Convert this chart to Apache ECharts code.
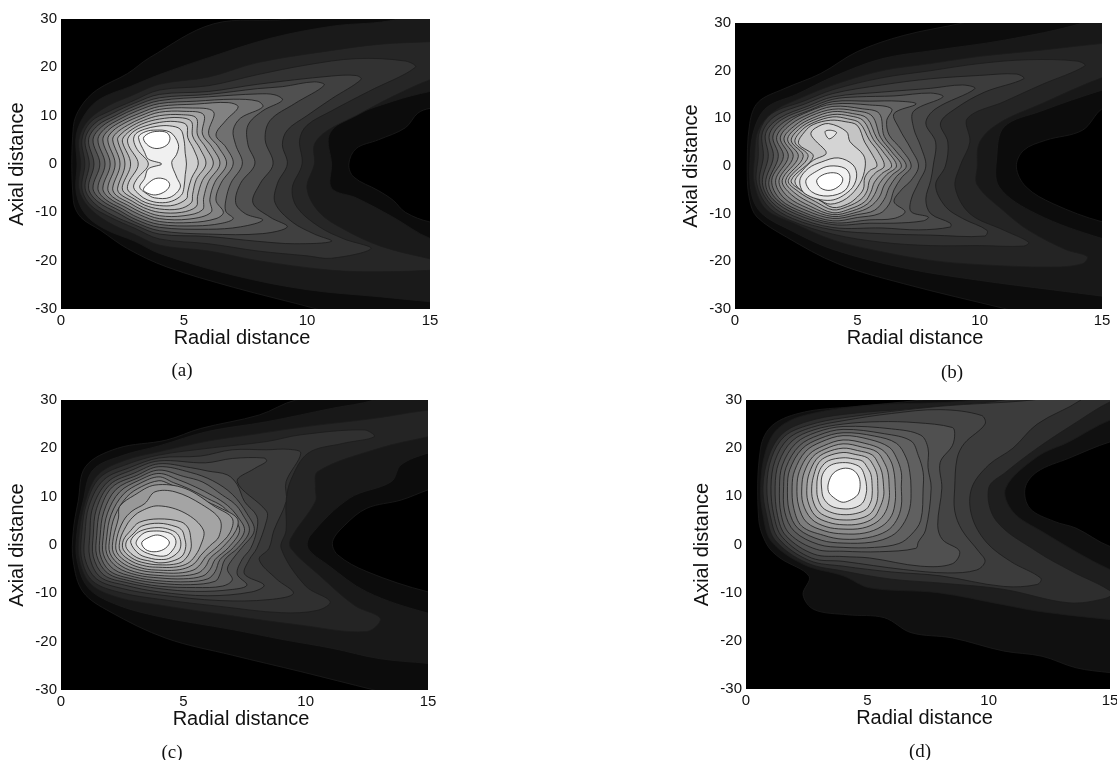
<!DOCTYPE html>
<html><head><meta charset="utf-8">
<script src="https://cdn.jsdelivr.net/npm/echarts@6/dist/echarts.min.js"></script>
<style>html,body{margin:0;padding:0;background:#fff}#c{width:1117px;height:760px}</style>
</head><body><div id="c"></div>
<script>
const panelNames = ['(a)','(b)','(c)','(d)'];
const xLabel = 'Radial distance';
const yLabel = 'Axial distance';
const radialTicks = [0,15,5];
const axialTicks = [-30,30,10];

// Contour outlines: flat lists of radial, axial pairs, outermost first.
const contoursA = [
[16,36, 9.2,30, 6.2,29, 3.6,22, 2.7,18.7, 1.45,15.3, .8,11.8, .5,7.7, .5,-7.5, .8,-11, 1.6,-13.7, 2.7,-17.5, 4.3,-21.3, 7,-25.5, 10.4,-30, 16,-38, 16,-12.3, 15,-12, 14,-10, 13.5,-7.5, 12.9,-5.5, 11.9,-2.7, 11.7,0, 12,3.2, 12.9,5, 14,7.5, 14.5,10.5, 15,11.5, 16,11.7],
[16,35, 13.7,30, 11,28.5, 8.5,26, 6,22, 4,18.5, 2.8,16, 1.6,13.5, 1,10.5, .62,6, .65,0, .62,-6, 1,-10.5, 1.8,-13.5, 3,-16, 4,-18.5, 7,-23, 10,-26, 13,-27.5, 15,-28.5, 16,-29, 16,-16, 15,-15.4, 13.5,-11, 12,-7, 11,-5, 11,0, 10.9,6, 11.7,9.5, 13.5,13, 15,15, 16,15.6],
[16,25.5, 15,25.3, 13,24.8, 11,23.5, 8,21, 6,18, 4,16.5, 2.8,14, 1.9,12, 1.1,9, .72,5, .8,0, .72,-5, 1.1,-8.8, 1.9,-12, 3,-14.6, 4,-16.8, 6,-18, 8,-20, 11,-22, 13,-22.3, 15,-22, 16,-21.5, 16,-20.5, 15,-19.6, 13,-17, 11.5,-13.5, 10.5,-10, 10,-5, 10.3,0, 10.3,4, 10.8,6.8, 12,10, 13.5,14, 15,17.4, 16,18.5],
[14.4,20, 14,21.3, 12,21.8, 10,20.5, 8,18.5, 6,16.2, 4,15.3, 2.9,13, 2,11, 1.2,8.7, .85,5, .97,0, .85,-5, 1.2,-8.5, 2,-11, 3,-13.3, 4,-15.5, 6,-16.5, 8,-18, 10,-19, 11,-19.5, 12.6,-17.5, 11.5,-15.5, 10.5,-13, 9.6,-9, 9.4,-5, 9.8,0, 9.7,5, 10,8, 11,11, 12.5,15],
[12.2,17.5, 12,18.3, 11,18.2, 8,16.5, 6,15, 4,14.4, 3,12.6, 2.1,10.5, 1.35,8.3, .98,5, 1.15,0, .98,-5, 1.35,-8.1, 2.1,-10.6, 3,-12.6, 4,-14.5, 6,-15, 8,-16, 9.5,-16.5, 11,-16, 10.3,-14.5, 9.4,-12, 8.7,-8, 8.8,-4, 9.2,0, 9,4, 9.2,7, 10,10, 11,13.5],
[10.7,16.3, 10.3,17, 9,16, 8,15.6, 6,14.4, 4,13.7, 3,12, 2.2,10, 1.5,8, 1.12,5, 1.34,0, 1.12,-5, 1.5,-7.8, 2.3,-10.1, 3,-12, 4,-13.8, 6,-14.5, 8.2,-14.4, 9.2,-13, 8.5,-11, 7.8,-8, 8.1,-4, 8.62,0, 8.3,5, 8.5,9, 9.5,12.5],
[9,13.2, 8.7,14.3, 8,14.5, 6,13.9, 4,13.1, 3.05,11.5, 2.3,9.7, 1.65,7.7, 1.3,5, 1.58,0, 1.3,-5, 1.65,-7.5, 2.4,-9.7, 3.05,-11.5, 4,-13.1, 6,-13.5, 7.3,-13, 8.2,-11.6, 7.5,-10.3, 7.1,-8, 7.3,-4, 7.88,0, 7.6,4, 7.6,8, 8.2,11],
[8.2,11.8, 8,13, 7,13.4, 5.5,13, 4,12.5, 3.1,11, 2.4,9.3, 1.8,7.4, 1.5,5, 1.79,0, 1.5,-5, 1.8,-7.3, 2.5,-9.3, 3.1,-11, 4,-12.5, 5.5,-12.8, 6.5,-12.3, 7,-11.3, 6.7,-9.8, 6.7,-7.5, 6.9,-4, 7.37,0, 7.1,4, 7,7, 7.3,9.5],
[7.2,11.8, 6.8,12.7, 5.5,12.4, 4,11.9, 3.2,10.5, 2.5,8.9, 1.95,7.1, 1.7,5, 2,0, 1.7,-5, 1.95,-7, 2.6,-8.9, 3.2,-10.5, 4,-11.9, 5.3,-12.1, 6.3,-11.3, 6.6,-10, 6.3,-7.5, 6.5,-4, 7,0, 6.7,3.5, 6.3,6, 6.7,9],
[6.2,10.8, 5.2,11.6, 4,11.3, 3.25,10, 2.6,8.5, 2.1,6.8, 1.9,5, 2.2,0, 1.9,-5, 2.1,-6.8, 2.7,-8.5, 3.25,-10, 4,-11.3, 5.2,-11.4, 6.1,-10, 6.05,-7.3, 6.25,-3.8, 6.73,0, 6.4,3.5, 6,6.3],
[5.8,10.2, 5,10.9, 4,10.7, 3.3,9.5, 2.7,8, 2.25,6.4, 2.1,5, 2.4,0, 2.1,-5, 2.25,-6.5, 2.8,-8.1, 3.3,-9.5, 4,-10.7, 5,-10.7, 5.75,-9.5, 5.8,-7, 6,-3.6, 6.46,0, 6.15,3.4, 5.75,6.2],
[5.5,9.5, 4.9,10.2, 4,10, 3.35,9, 2.8,7.6, 2.4,6, 2.3,5, 2.6,0, 2.3,-5, 2.4,-6.2, 2.9,-7.7, 3.35,-9, 4,-10, 4.9,-10, 5.5,-8.8, 5.55,-6.7, 5.75,-3.4, 6.19,0, 5.9,3.3, 5.55,6],
[5.3,8.8, 4.8,9.6, 4,9.3, 3.4,8.5, 2.9,7.2, 2.55,5.6, 2.5,4.5, 2.83,0, 2.5,-4.5, 2.55,-5.8, 3,-7.3, 3.4,-8.5, 4,-9.3, 4.8,-9.3, 5.3,-8, 5.35,-6.3, 5.5,-3.2, 5.89,0, 5.65,3.2, 5.35,5.8],
[5.1,8.1, 4.6,8.8, 4,8.6, 3.45,7.9, 3,6.9, 2.72,5.3, 2.75,3.8, 3.14,0, 2.75,-3.8, 2.72,-5.4, 3.1,-7, 3.45,-8, 4,-8.6, 4.6,-8.5, 5.1,-7.2, 5.15,-5.8, 5.3,-3, 5.58,0, 5.4,3, 5.15,5.5],
[4.85,7.2, 4.4,7.9, 3.9,7.8, 3.4,7.2, 3.05,6.3, 2.95,5, 3.1,3, 3.55,0, 3.1,-3, 2.95,-4.8, 3.2,-6.4, 3.5,-7.4, 4,-8, 4.5,-7.7, 4.9,-6.4, 5,-4.8, 5.05,-2.2, 5.1,0, 5.05,2.2, 5,5],
[4.43,6.6, 3.75,7, 3.35,6.5, 3.15,5.5, 3.4,2.4, 3.55,1, 4.09,0, 3.55,-1, 3.4,-3, 3.2,-4.8, 3.5,-6.2, 3.8,-7, 4.43,-6.9, 4.85,-4.8, 4.7,-2.7, 4.5,.3, 4.7,2, 4.77,4.1],
[3.35,5.3, 3.55,6.3, 3.9,6.75, 4.3,6.5, 4.43,5.3, 4.3,3.9, 3.9,3.2, 3.55,3.8],
[3.35,-5.3, 3.5,-4.2, 3.85,-3, 4.25,-3.2, 4.42,-4.3, 4.25,-5.6, 3.85,-6.4, 3.5,-6]
];
const shadesA = [12,26,38,50,64,80,96,112,130,147,163,178,192,207,222,240,255,255];

const contoursB = [
[16,38, 9.3,30, 6.9,27.4, 5,24, 3.5,19.4, 2,16.2, .95,13.4, .6,8.9, .5,-1.6, .6,-7.2, .9,-10.7, 2.1,-14.9, 4.2,-20.5, 6.9,-24.7, 11.1,-30, 16,-36, 16,-12, 15,-11.7, 13,-7.9, 11.9,-4.4, 11.5,-.2, 11.8,3.3, 12.7,5.4, 14.2,7.5, 15,12, 16,14],
[16,34, 14.2,30, 11,26.4, 8.2,24.3, 6,22.5, 4,18.7, 2.5,15, 1.3,12.3, .8,8, .62,2, .68,-6, 1.1,-10, 2.2,-13.3, 4,-17.5, 7,-21.5, 10,-24, 13,-26, 15,-27.3, 16,-28, 16,-15.8, 15,-15.2, 12.3,-10, 10.8,-4.4, 10.7,1.9, 11,8.2, 12.5,11.5, 15,15.9, 16,17],
[16,26, 15,25.7, 12.5,24.3, 10,23, 8,21.5, 6,20, 4,17, 2.7,14.3, 1.6,11.5, .95,7.5, .8,2, .78,-3.5, 1.25,-9, 2.4,-12, 4,-15.5, 6,-18, 8,-19.8, 10,-20.7, 13,-21.2, 14.2,-20.5, 14.4,-19, 13.5,-17.5, 12,-13.5, 11,-9.5, 9.9,-4, 9.9,-.2, 10,5, 10.8,9, 12.5,13, 15,18.5, 16,19.5],
[14.3,21, 14,22, 12,22.3, 10,21.5, 8,20, 6,18.5, 4,16, 2.8,13.6, 1.5,11, 1,7.2, .95,2, .88,-3.5, 1.35,-8.5, 2.3,-11.5, 4,-14.3, 6,-16, 8,-16.7, 10,-16.7, 11.8,-16.8, 12,-16, 11,-13.5, 9.6,-10, 9,-4.5, 9.2,0, 9.6,5, 9.5,10, 11,13.5, 12.5,17],
[11.8,18.3, 11.5,19.3, 10,19, 8,18.3, 6,17, 4,15.2, 2.9,13.1, 1.65,10.5, 1.12,7, 1.16,2, 1,-3.5, 1.45,-8, 2.35,-11, 4,-13.4, 6,-14.2, 8,-14.5, 10.2,-14.7, 10.3,-13.5, 9.3,-11, 8.6,-8.5, 8.2,-4, 8.6,0, 8.7,5, 8.4,9, 9,12, 10.2,15.5],
[9.8,16.2, 9.3,17, 8,16.3, 6,15.5, 4,14.5, 3,12.6, 1.8,10, 1.25,6.8, 1.36,2, 1.12,-3.5, 1.5,-7.5, 2.4,-10.5, 4,-12.9, 6,-13, 7.5,-13.4, 8.8,-12.8, 8.8,-12, 8,-10, 7.8,-7, 8,-3, 8.1,0, 8.2,5, 7.8,9, 8.2,12],
[8.5,14.5, 8,15.3, 6.5,14.7, 5,14.5, 4,14, 3.05,12.2, 1.9,9.7, 1.4,6.5, 1.57,2, 1.25,-3.5, 1.55,-7, 2.5,-10.1, 4,-12.3, 5.5,-12, 6.5,-12, 7.7,-11.5, 7.9,-10.7, 7.2,-9.6, 7.2,-7, 7.5,-3.5, 7.8,0, 7.6,4, 7.3,8, 7.3,11.5],
[7.4,13, 6.7,13.6, 5.5,13.6, 4,13.5, 3.1,11.8, 2.05,9.4, 1.55,6.3, 1.77,2, 1.38,-3.5, 1.7,-7, 2.6,-9.8, 4,-11.9, 5.5,-11.3, 6.5,-11, 6.95,-9.6, 6.5,-7.5, 6.8,-5, 7.2,-3, 7.5,0, 7.2,3.5, 6.7,8, 6.5,11],
[6.4,12, 5.5,12.8, 4,13, 3,11.4, 2.2,9.2, 1.7,6, 1.98,2, 1.5,-3, 1.85,-7, 2.8,-9.7, 4,-11.5, 5,-10.8, 5.9,-10, 6.3,-8, 6.5,-5, 6.8,-2.5, 7.2,0, 6.8,3.5, 6.3,6.5, 6.2,9.5],
[5.9,11, 5.2,12, 4,12.5, 3.05,10.9, 2.3,8.8, 1.85,5.9, 2.18,2, 1.66,-3, 2,-6.7, 2.9,-9.3, 4,-11, 5,-10.2, 5.7,-9.3, 6.1,-7, 6.3,-4.5, 6.6,-2.2, 7,0, 6.6,3, 6.1,6.2],
[5.6,10.5, 4.9,11.6, 4,11.9, 3.1,10.5, 2.45,8.5, 2,5.7, 2.38,2, 1.8,-3, 2.15,-6.4, 3,-8.9, 4,-10.6, 4.9,-9.8, 5.5,-8.6, 5.9,-6.5, 6.1,-4, 6.4,-2, 6.8,0, 6.4,3, 5.95,6],
[5.4,10, 4.8,11, 4,11.4, 3.15,10, 2.55,8.2, 2.15,5.5, 2.59,2, 1.93,-3, 2.3,-6, 3.1,-8.5, 4,-10.2, 4.8,-9.4, 5.4,-8, 5.7,-6, 5.9,-3.7, 6.2,-1.8, 6.6,0, 6.25,3, 5.8,5.8],
[5.25,9.5, 4.7,10.5, 4,10.8, 3.2,9.6, 2.65,7.9, 2.3,5.3, 2.79,2, 2.07,-3, 2.45,-5.7, 3.2,-8, 4,-9.8, 4.7,-9, 5.3,-7.5, 5.55,-5.5, 5.7,-3.4, 6,-1.6, 6.4,0, 6.05,3, 5.65,5.6],
[5.1,9, 4.6,9.9, 4,10.3, 3.25,9.2, 2.75,7.6, 2.45,5, 2.99,2, 2.18,-3, 2.6,-5.4, 3.3,-7.5, 4,-9.2, 4.6,-8.5, 5.15,-7, 5.4,-5.2, 5.5,-3, 5.75,-1.4, 6.1,0, 5.85,3, 5.5,5.4],
[5,8.5, 4.5,9.3, 3.9,9.6, 3.2,8.7, 2.85,7.2, 2.6,4.7, 3.2,2, 2.3,-3, 2.7,-5.1, 3.4,-7, 4,-8.7, 4.6,-8, 5,-6.5, 5.25,-4.8, 5.3,-2.5, 5.5,-1, 5.8,0, 5.6,2.5, 5.3,5],
[4.56,7.2, 3.82,8.9, 3.3,8, 3.1,6.8, 3.27,5.4, 3.7,3.2, 3.7,2.4, 3.2,1.2, 2.75,-1, 2.45,-3.3, 2.8,-5.5, 3.4,-7, 3.9,-8, 4.56,-6.8, 5.1,-3.7, 5.32,-.2, 5.25,2.3, 4.7,5.1],
[3.68,7.2, 3.9,7.5, 4.15,7, 3.85,5.7],
[3.54,.85, 4.22,1.7, 4.83,.2, 4.97,-2.3, 4.7,-5.1, 3.9,-7.2, 2.86,-5.8, 2.65,-3, 3,-.5],
[2.9,-3, 3.4,-.9, 3.88,0, 4.5,-.5, 4.7,-2.3, 4.5,-5.1, 3.8,-6.3, 3.13,-5.4],
[3.34,-3, 3.66,-1.7, 4.15,-1.5, 4.4,-2.6, 4.3,-4, 3.9,-5.1, 3.5,-4.6]
];
const shadesB = [12,24,36,48,60,72,84,98,112,126,140,154,168,182,196,212,228,228,242,255];

const contoursC = [
[16,36, 9.6,30, 8.1,26.9, 5.7,24.1, 4.3,21.7, 2.3,20, 1,16.2, .7,9, .5,2.8, .5,-3.4, .9,-9.7, 2,-13.8, 4.3,-19.3, 7,-22.8, 9.8,-26.2, 12.8,-30, 16,-34, 16,-10, 15,-9.7, 12.5,-5.5, 11.3,-2, 11.1,.7, 11.6,4.1, 12.5,7.6, 13.9,9.3, 15,11.4, 16,13],
[16,36, 12.8,30, 11.1,28.3, 8.4,25.5, 6,23.5, 4,20.5, 2.5,18.5, 1.3,15.5, .9,9, .65,2.5, .65,-3, 1.1,-8.8, 2.2,-12.2, 4,-14.8, 7,-17.5, 9,-19.5, 11.1,-21.4, 13,-23.5, 15,-24.5, 16,-25, 16,-14.5, 15,-14.1, 12.5,-9.7, 10.9,-4.1, 10.1,-.7, 10.2,2, 11.8,9.7, 13.5,13.1, 13.9,16.6, 15,19, 16,20],
[16,28, 15,27.9, 12.8,26.2, 10,24.5, 8,23, 6,21.5, 4,19.3, 2.6,17.5, 1.5,14.5, 1,9, .75,2.5, .75,-3, 1.2,-8, 2.3,-10.8, 4,-12.4, 6.5,-14.3, 9.8,-16.6, 12.5,-17.9, 13.05,-15.2, 12,-12.5, 10.5,-6, 9.4,-.7, 9.4,1.4, 10.4,9, 10.4,11.7, 10.5,15.2, 13,20, 15,22.4, 16,23.5],
[12.8,22.4, 12.4,23.8, 9.8,22.8, 8.4,21.4, 6,20, 4,18.6, 2.7,16.7, 1.6,14, 1.05,8.7, .85,2.5, .85,-3, 1.3,-7.5, 2.4,-9.8, 4,-11.2, 6.5,-12.7, 9,-14, 10.5,-13.5, 11,-11.7, 10,-8.5, 9,-.7, 9.2,3, 9.2,9, 9.4,13.5, 10.1,19, 11.5,21],
[9.8,19, 9.3,19.8, 8.4,19.7, 7,19.7, 5.7,18.4, 4,18, 2.8,16, 1.75,13.5, 1.15,8.2, .98,2.3, .98,-2.8, 1.45,-7, 2.5,-9, 4,-10.3, 6.5,-11.5, 8.5,-11.3, 9.5,-10, 8.8,-7, 8.1,-3, 8.5,-.7, 8.7,3, 9.2,9, 9.2,13.1],
[8.4,17.3, 8.3,18, 7,17.9, 5.9,17, 4,17.4, 2.9,15.5, 1.9,13, 1.3,7.8, 1.18,2.2, 1.18,-2.6, 1.6,-6.6, 2.6,-8.3, 4,-9.7, 6,-10.5, 7.8,-9.7, 8.3,-8.3, 7.5,-6, 7.7,-3, 8,-.7, 8.4,5, 8.4,7, 7.2,13.1, 7.9,15.8],
[7.2,12.5, 6.8,14.5, 6,15.3, 5.3,16, 4,16.8, 3,14.9, 2,12.5, 1.45,7.5, 1.32,2.1, 1.32,-2.4, 1.75,-6.2, 2.7,-7.8, 4,-9, 5.5,-9.6, 7,-9.2, 7.6,-8.3, 7.2,-6, 7.4,-3, 7.75,-.7, 8,3, 8,6, 7.5,9],
[7,10.5, 6.2,13.3, 5.3,15, 4,16.2, 3.1,14.4, 2.1,12, 1.6,7.2, 1.46,2, 1.46,-2.2, 1.9,-5.8, 2.8,-7.4, 4,-8.5, 5.5,-8.8, 6.6,-8.5, 7,-7.2, 6.8,-5, 7,-3, 7.4,-.5, 7.9,3, 7.6,6.5],
[6.6,10.3, 5.8,13, 5,14.2, 4,15.5, 3.15,13.9, 2.25,11.5, 1.75,6.9, 1.6,1.9, 1.6,-2, 2,-5.4, 2.9,-7, 4,-7.9, 5.3,-8.2, 6.3,-7.5, 6.5,-6, 6.7,-3, 7.25,-.5, 7.7,3, 7.4,6.5, 7.1,8.5],
[6.2,10.2, 5.5,12, 4.8,13.5, 4,14.8, 3.2,13.4, 2.4,11, 1.9,6.6, 1.73,1.8, 1.73,-1.9, 2.15,-5, 3,-6.6, 4,-7.4, 5.2,-7.6, 6,-7, 6.3,-5.5, 6.5,-3, 7.05,-.5, 7.5,3, 7.2,6, 6.8,8.2],
[6,9.6, 5.2,11.7, 4.6,12.9, 4,14.1, 3.25,12.8, 2.55,10.5, 2.05,6.3, 1.87,1.7, 1.87,-1.8, 2.3,-4.6, 3.1,-6.2, 4,-6.8, 5,-7, 5.8,-6.4, 6.1,-5, 6.3,-3, 6.85,-.5, 7.3,3, 7,5.8, 6.6,8],
[5.8,9.3, 5,11.2, 4.4,12.7, 4,13.3, 3.3,12.1, 2.7,10, 2.2,6, 2,1.6, 2,-1.7, 2.45,-4.3, 3.2,-5.8, 4,-6.3, 4.9,-6.4, 5.6,-5.8, 5.9,-4.5, 6.1,-2.7, 6.6,-.5, 7.15,3, 7.2,5.5, 6.5,7.7],
[5.07,11.7, 3.84,12.4, 3,10.3, 2.4,8, 2.35,5.6, 2.14,1.5, 2.14,-1.6, 2.6,-4, 3.3,-5.3, 4,-5.7, 4.8,-5.8, 5.4,-5.2, 5.7,-4, 5.9,-2.5, 6.4,-.3, 6.9,2.5, 7,5.5, 6.3,7.9],
[4.66,11, 3.84,11, 3.43,8.6, 2.9,7, 2.55,5, 2.28,1.4, 2.28,-1.5, 2.75,-3.7, 3.4,-4.9, 4,-5.2, 4.7,-5.2, 5.2,-4.6, 5.5,-3.6, 5.7,-2.2, 6.1,-.1, 6.45,1.7, 6.5,5.2, 5.75,8.4],
[5.07,6.6, 3.98,8.1, 3.23,6.9, 2.85,5.3, 2.65,3.8, 2.42,1.2, 2.42,-1.3, 2.9,-3.4, 3.5,-4.4, 4,-4.6, 4.6,-4.6, 5.1,-4, 5.4,-2.8, 5.7,-.2, 5.82,3.1],
[4.9,4.8, 4,5.4, 3.2,4.7, 2.85,3, 2.55,1, 2.55,-1, 3,-3, 3.6,-3.9, 4,-4.1, 4.6,-4, 5,-3.3, 5.3,-1, 5.3,1.5, 5.2,3.5],
[4.7,3.8, 4,4.5, 3.3,3.9, 2.95,2.3, 2.68,.8, 2.68,-.7, 3.1,-2.6, 3.7,-3.4, 4,-3.7, 4.5,-3.4, 4.95,-2.3, 5.1,-.3, 5.05,1.5, 4.95,3],
[4.55,3, 4,3.6, 3.35,3.1, 3,2, 2.85,.5, 3.2,-1.9, 3.7,-2.8, 4,-3, 4.4,-2.8, 4.8,-1.4, 4.9,.2, 4.8,2],
[4.35,2.6, 3.9,2.9, 3.4,2.5, 3.07,.5, 3.3,-1.1, 3.8,-2.1, 4.3,-2.2, 4.6,-.8, 4.7,.6, 4.6,1.9],
[3.3,.5, 3.6,1.6, 3.95,2.07, 4.3,1.4, 4.43,.4, 4.2,-.9, 3.8,-1.4, 3.45,-.9]
];
const shadesC = [12,24,36,48,58,68,80,92,104,116,128,140,152,164,178,192,206,220,238,255];

const contoursD = [
[16,36, 7.2,30, 4.4,28.6, 2.4,27.5, 1.1,24.8, .6,20, .52,5.4, .86,0, 1.4,-2.8, 2.6,-6.6, 2.35,-10.4, 2.8,-13.5, 4.2,-14.6, 5.7,-15.2, 6.8,-18.3, 8.5,-19.4, 10.6,-22.1, 12.2,-23.2, 13.6,-25.6, 15,-26.6, 16,-27, 16,-1, 15,-.4, 13.6,3.4, 12.7,4.8, 11.7,7.5, 11.5,11.7, 12,15.1, 13.3,17.9, 15,21.3, 16,22.2],
[16,36, 9.4,30, 5.1,28.9, 2.4,26.8, 1.3,24, .8,19.2, .6,12, .7,6.1, 1.05,.6, 2.4,-4.2, 4,-6.5, 5.1,-9, 7.9,-10, 10.6,-12.5, 12.1,-13.9, 15,-15.6, 16,-16, 16,-6, 15,-5.2, 12.2,2.7, 11,6.8, 10.7,11.7, 12,18.2, 13.3,21.3, 15,25.8, 16,26.5],
[16,36, 10.6,30, 7,28.3, 4,27, 2.5,25.5, 1.5,23, .95,18.5, .7,12, .85,6, 1.2,.9, 2.5,-3.8, 4,-5.5, 6,-7.2, 8,-8, 10.6,-9.3, 13.3,-12.1, 14.8,-11.2, 15.1,-10, 13.4,-5.5, 12,-1.5, 10.3,5, 10,11.7, 10.7,15, 12,20, 13.5,25, 15,29.6, 16,31],
[14,32, 11.8,30, 8,28.7, 4,26.3, 2.6,24.8, 1.6,22.5, 1.05,18, .86,12, 1,6, 1.35,1.2, 2.6,-3.3, 4,-4.5, 6,-5.7, 8,-6.5, 10.6,-8.7, 12,-8.3, 12.15,-7, 10.9,-3.5, 9.9,.5, 9.3,6, 9.3,11.7, 10,16.5, 11,20, 12,25, 13.8,30],
[9.85,25, 9.7,26.8, 8,28, 6,27.2, 4,25.7, 2.7,24.3, 1.75,22, 1.2,17.5, 1.03,12, 1.15,6, 1.5,1.5, 2.7,-2.8, 4,-3.5, 6.5,-5.2, 8.3,-5.9, 9.5,-5.3, 9.85,-3.5, 9.6,-1.5, 8.9,3, 8.6,7, 8.6,11.7, 8.7,17.9, 9,21],
[8.6,23, 8.5,24.3, 7,25.3, 5.5,25.5, 4,25, 2.8,23.8, 1.9,21.5, 1.35,17, 1.2,12, 1.3,6, 1.65,1.8, 2.8,-2, 4,-2.5, 5.1,-2.8, 7.2,-4.5, 8.5,-4, 8.8,-1.4, 8.1,1, 7.9,4, 8.07,11.7, 8,17, 8.5,20.5],
[7.5,20, 7.2,22.7, 6,24, 4,24.5, 2.9,23.3, 2.05,21, 1.5,16.5, 1.38,12, 1.45,6.2, 1.8,2.2, 2.9,-1, 4,-1.4, 5.5,-1.5, 7,-.8, 7.1,.5, 7.4,3, 7.63,11.7, 7.5,16],
[7.1,18.5, 6.8,21.5, 5.7,23, 4,23.9, 3,22.7, 2.2,20.5, 1.65,16, 1.55,12, 1.6,6.7, 2,2.7, 3,0, 4,-.6, 5.3,-.6, 6.3,.2, 6.8,2, 7.2,5, 7.3,11.7, 7.3,15],
[6.6,18, 6.2,21, 5.3,22.5, 4,23.2, 3.05,22, 2.3,19.8, 1.8,15.5, 1.71,12, 1.78,7, 2.15,3.3, 3.1,.9, 4,.3, 5.2,.5, 6,1.8, 6.45,4, 6.75,7.5, 6.8,11.7, 6.75,15],
[6.2,18, 5.9,20.2, 5.1,21.8, 4,22.6, 3.1,21.3, 2.45,19.3, 2,15.3, 1.9,12, 1.97,7.5, 2.3,3.8, 3.2,1.9, 4,1.1, 5,1.4, 5.8,2.8, 6.2,5, 6.4,8, 6.4,12, 6.4,15],
[5.95,17.5, 5.6,19.7, 4.9,21, 4,21.7, 3.2,20.5, 2.6,18.7, 2.2,15.2, 2.1,12, 2.17,8, 2.5,4.6, 3.25,2.8, 4,2.2, 4.9,2.4, 5.6,3.8, 6,6, 6.15,9, 6.15,12, 6.1,15],
[5.7,17, 5.4,19.2, 4.8,20.2, 4,20.9, 3.25,19.8, 2.75,18.2, 2.4,15, 2.3,12, 2.35,8.5, 2.7,5.3, 3.3,3.7, 4,3.2, 4.8,3.4, 5.4,4.7, 5.75,6.8, 5.9,9.5, 5.9,12, 5.85,15],
[5.45,16.8, 5.2,18.6, 4.6,19.5, 4,20, 3.3,19.1, 2.9,17.7, 2.6,14.7, 2.51,12, 2.55,9, 2.85,6, 3.4,4.6, 4,4.1, 4.7,4.3, 5.25,5.5, 5.5,7.5, 5.67,10, 5.67,12, 5.6,15],
[5.25,16.4, 5,18, 4.5,18.7, 4,19.1, 3.35,18.3, 3,17, 2.8,14.5, 2.71,12, 2.75,9.3, 3,6.8, 3.5,5.5, 4,5.1, 4.6,5.3, 5.1,6.3, 5.35,8.2, 5.43,10, 5.43,12, 5.4,14.5],
[5,16, 4.8,17.3, 4.4,17.8, 4,18, 3.4,17.4, 3.1,16, 2.95,14, 2.92,12, 2.95,9.8, 3.15,7.7, 3.55,6.6, 4,6.2, 4.5,6.4, 4.95,7.3, 5.15,9, 5.2,10.5, 5.2,12, 5.15,14.5],
[4.75,15.8, 4.5,16.6, 4.1,17, 3.6,16.7, 3.3,15.7, 3.12,14, 3.12,11.5, 3.2,9.6, 3.5,8, 4,7.4, 4.45,7.6, 4.8,8.6, 4.95,10.5, 4.97,12, 4.9,14],
[3.4,12.8, 3.6,14.8, 4,15.8, 4.4,15.5, 4.65,14, 4.7,12, 4.6,10.3, 4.25,9.1, 3.95,8.8, 3.6,9.8, 3.4,11]
];
const shadesD = [16,30,46,60,68,80,88,96,110,125,140,155,172,190,208,228,255];

const panels = [
  {contours:contoursA, shades:shadesA, grid:{left:61,top:19,width:369,height:290}, cap:[182,372]},
  {contours:contoursB, shades:shadesB, grid:{left:735,top:23,width:367,height:286}, cap:[952,374]},
  {contours:contoursC, shades:shadesC, grid:{left:61,top:400,width:367,height:290}, cap:[172,754]},
  {contours:contoursD, shades:shadesD, grid:{left:746,top:400,width:364,height:289}, cap:[920,753]}
];

const chart = echarts.init(document.getElementById('c'), null, {renderer:'canvas'});
const labelFont = {fontFamily:'"Liberation Sans",Arial,sans-serif', color:'#111'};
chart.setOption({
  animation:false,
  backgroundColor:'#fff',
  title: panels.map((p,i)=>({text:panelNames[i], left:p.cap[0], top:p.cap[1]-10, textAlign:'center',
    textStyle:{fontFamily:'"Liberation Serif",serif', fontSize:19, fontWeight:'normal', color:'#111'}, padding:0})),
  grid: panels.map(p=>Object.assign({show:true, backgroundColor:'#000', borderWidth:0, containLabel:false, outerBoundsMode:'none'}, p.grid)),
  xAxis: panels.map((p,i)=>({type:'value', gridIndex:i, min:radialTicks[0], max:radialTicks[1], interval:radialTicks[2],
    name:xLabel, nameLocation:'middle', nameGap:19, nameTextStyle:Object.assign({fontSize:20, padding:[0,7,0,0]},labelFont),
    axisLine:{show:false}, axisTick:{show:false}, splitLine:{show:false},
    axisLabel:Object.assign({fontSize:15, margin:4, showMinLabel:true, showMaxLabel:true, hideOverlap:false},labelFont)})),
  yAxis: panels.map((p,i)=>({type:'value', gridIndex:i, min:axialTicks[0], max:axialTicks[1], interval:axialTicks[2],
    name:yLabel, nameLocation:'middle', nameGap:34, nameRotate:90, nameTextStyle:Object.assign({fontSize:20},labelFont),
    axisLine:{show:false}, axisTick:{show:false}, splitLine:{show:false},
    axisLabel:Object.assign({fontSize:15, margin:4, showMinLabel:true, showMaxLabel:true, hideOverlap:false},labelFont)})),
  series: panels.map((p,i)=>({
      type:'custom', xAxisIndex:i, yAxisIndex:i, clip:true, silent:true,
      data:p.contours.map(c=>[c[0],c[1]]),
      renderItem:function(params,api){
        const c = p.contours[params.dataIndex];
        const v = p.shades[params.dataIndex];
        const pts = [];
        for(let k=0;k<c.length;k+=2) pts.push(api.coord([c[k],c[k+1]]));
        return {type:'polygon', shape:{points:pts, smooth:0.35},
          style:{fill:'rgb('+v+','+v+','+v+')', stroke:'#1c1c1c', lineWidth:0.8}};
      }
  }))
});
</script></body></html>
